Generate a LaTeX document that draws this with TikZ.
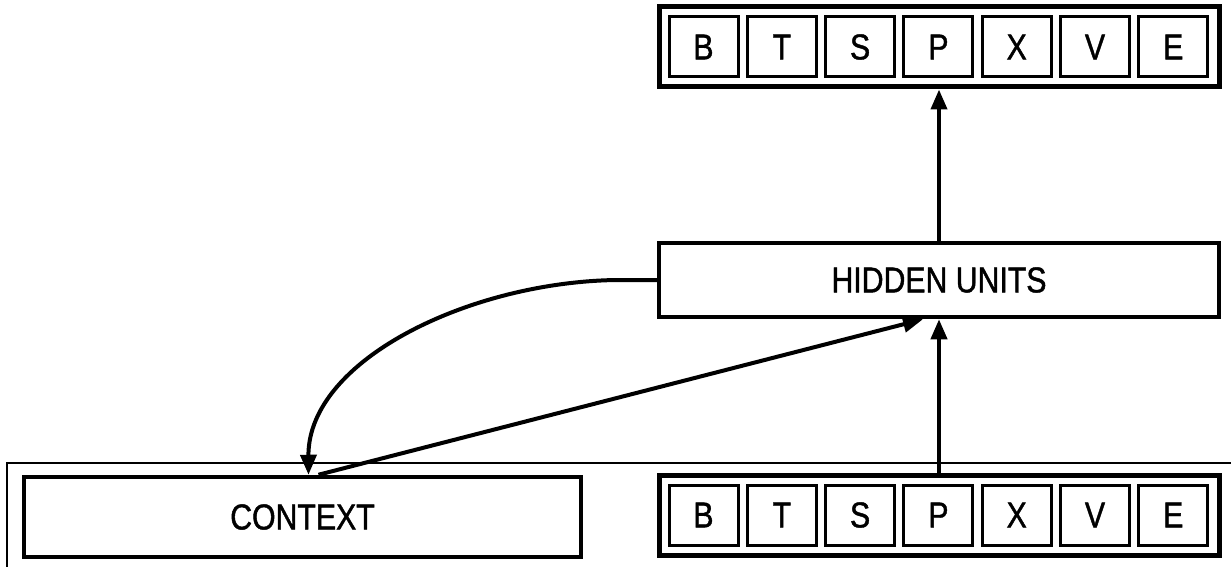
\documentclass[tikz,border=0pt]{standalone}
\usepackage{fontspec}
\setmainfont{Liberation Sans}[FakeStretch=0.84,FakeBold=1.2]
\usetikzlibrary{arrows.meta,calc}
\tikzset{
  outerbox/.style={draw, line width=5pt, minimum width=560pt, minimum height=80pt, inner sep=0pt},
  cellbox/.style={draw, line width=3pt, minimum width=69pt, minimum height=60pt, inner sep=0pt, font=\fontsize{36}{40}\selectfont},
  layerbox/.style={draw, line width=4.5pt, inner sep=0pt, font=\fontsize{36}{40}\selectfont},
  conn/.style={line width=4pt, -{Triangle[length=20pt,width=16pt]}},
  framel/.style={line width=2pt}
}
\begin{document}
\begin{tikzpicture}[x=1pt,y=-1pt]
\useasboundingbox (0,0) rectangle (1231,567);
% frame
\coordinate (fl) at (7,567);
\coordinate (fc) at (7,463);
\coordinate (fr) at (1231,463);
\draw[framel] (fl) -- (fc) -- (fr);
% output and input units
\node[outerbox] (top) at (939,47) {};
\node[outerbox] (bot) at (939,515) {};
\foreach \l [count=\i from 0] in {B,T,S,P,X,V,E} {
  \node[cellbox] (t\i) at (703.5+78.3*\i,47) {\l};
  \node[cellbox] (b\i) at (703.5+78.3*\i,515) {\l};
}
% hidden and context
\node[layerbox, minimum width=560pt, minimum height=74pt] (hid) at (939,280) {HIDDEN UNITS};
\node[layerbox, minimum width=557pt, minimum height=80pt] (ctx) at (302.5,517) {CONTEXT};
% connectors
\draw[conn] (hid.north -| top.south) -- (top.south);
\draw[conn] (bot.north) -- (hid.south -| bot.north);
\draw[conn] ([xshift=16pt]ctx.north) -- ([xshift=-16pt]hid.south);
\draw[conn] (hid.west) -- ++(-40,0) .. controls (470,282) and (308,360) .. ([xshift=6pt]ctx.north);
\end{tikzpicture}
\end{document}
